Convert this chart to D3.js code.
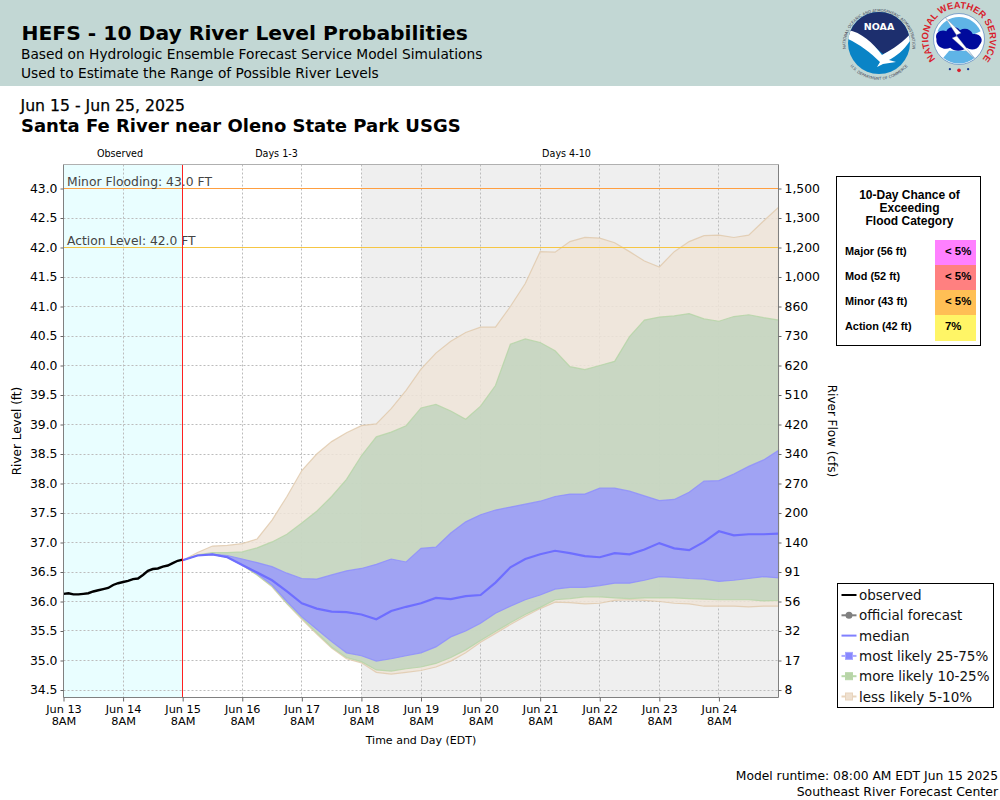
<!DOCTYPE html>
<html>
<head>
<meta charset="utf-8">
<script src="https://cdn.jsdelivr.net/npm/d3@7"></script>
<style>
body { margin: 0; background: #fff; }
svg { display: block; }
text { font-family: "DejaVu Sans", sans-serif; fill: #000; }
.grid line { stroke: #bcbcbc; stroke-dasharray: 2 2; }
.axis path { display: none; }
.axis line { stroke: #666; }
</style>
</head>
<body>
<div id="chart"></div>
<script>
const width = 1000;
const height = 800;

// tick labels
const dayLabels = ['Jun 13', 'Jun 14', 'Jun 15', 'Jun 16', 'Jun 17', 'Jun 18', 'Jun 19', 'Jun 20', 'Jun 21', 'Jun 22', 'Jun 23', 'Jun 24'];
const stageTicks = [43.0, 42.5, 42.0, 41.5, 41.0, 40.5, 40.0, 39.5, 39.0, 38.5, 38.0, 37.5, 37.0, 36.5, 36.0, 35.5, 35.0, 34.5];
const flowLabels = ['1,500', '1,300', '1,200', '1,000', '860', '730', '620', '510', '420', '340', '270', '200', '140', '91', '56', '32', '17', '8'];

// observed stage, one reading every 2 hours from Jun 13 8AM
const observed = [36.13, 36.14, 36.12, 36.12, 36.13, 36.14, 36.17, 36.19, 36.21, 36.23, 36.28, 36.31, 36.33, 36.35, 36.38, 36.39, 36.45, 36.52, 36.55, 36.56, 36.59, 36.61, 36.65, 36.69, 36.71];

// forecast percentiles, one value every 6 hours from Jun 15 8AM
const upper5 = [36.70, 36.83, 36.94, 36.95, 36.98, 37.06, 37.38, 37.78, 38.22, 38.50, 38.71, 38.86, 38.98, 39.01, 39.27, 39.58, 39.94, 40.21, 40.41, 40.56, 40.65, 40.65, 41.00, 41.39, 41.93, 41.92, 42.10, 42.17, 42.16, 42.08, 41.93, 41.77, 41.67, 41.93, 42.10, 42.20, 42.21, 42.17, 42.21, 42.45, 42.68];
const upper10 = [36.70, 36.79, 36.83, 36.83, 36.84, 36.91, 37.01, 37.14, 37.33, 37.53, 37.78, 38.07, 38.47, 38.79, 38.87, 38.98, 39.28, 39.34, 39.23, 39.09, 39.31, 39.66, 40.36, 40.45, 40.39, 40.25, 39.98, 39.93, 40.00, 40.07, 40.49, 40.77, 40.82, 40.84, 40.88, 40.79, 40.75, 40.83, 40.86, 40.81, 40.77];
const upper25 = [36.70, 36.78, 36.80, 36.78, 36.72, 36.66, 36.59, 36.48, 36.39, 36.38, 36.45, 36.52, 36.56, 36.63, 36.72, 36.67, 36.90, 36.92, 37.16, 37.35, 37.47, 37.55, 37.60, 37.65, 37.70, 37.78, 37.82, 37.82, 37.92, 37.92, 37.87, 37.79, 37.71, 37.73, 37.85, 38.04, 38.05, 38.16, 38.29, 38.40, 38.56];
const median = [36.70, 36.78, 36.80, 36.75, 36.62, 36.49, 36.36, 36.17, 35.97, 35.88, 35.83, 35.82, 35.78, 35.70, 35.84, 35.91, 35.97, 36.06, 36.04, 36.09, 36.11, 36.32, 36.58, 36.72, 36.80, 36.86, 36.82, 36.77, 36.75, 36.82, 36.80, 36.88, 36.99, 36.90, 36.87, 37.01, 37.19, 37.12, 37.14, 37.14, 37.15];
const lower25 = [36.70, 36.78, 36.80, 36.75, 36.62, 36.47, 36.28, 36.00, 35.74, 35.53, 35.32, 35.13, 35.08, 34.99, 35.03, 35.08, 35.13, 35.23, 35.40, 35.50, 35.63, 35.80, 35.92, 36.03, 36.11, 36.21, 36.24, 36.24, 36.27, 36.31, 36.31, 36.36, 36.42, 36.41, 36.39, 36.38, 36.34, 36.36, 36.39, 36.42, 36.40];
const lower10 = [36.70, 36.78, 36.80, 36.75, 36.62, 36.45, 36.26, 35.97, 35.72, 35.47, 35.23, 35.05, 34.98, 34.84, 34.82, 34.86, 34.89, 34.95, 35.05, 35.18, 35.34, 35.49, 35.64, 35.78, 35.90, 36.03, 36.05, 36.08, 36.08, 36.06, 36.05, 36.06, 36.06, 36.06, 36.05, 36.04, 36.03, 36.03, 36.03, 36.01, 36.02];
const lower5 = [36.70, 36.78, 36.80, 36.75, 36.62, 36.45, 36.25, 35.96, 35.70, 35.45, 35.21, 35.03, 34.96, 34.80, 34.77, 34.80, 34.83, 34.89, 34.99, 35.13, 35.31, 35.46, 35.61, 35.75, 35.88, 35.99, 35.98, 35.96, 35.97, 36.02, 36.03, 36.02, 36.00, 35.97, 35.96, 35.92, 35.92, 35.92, 35.91, 35.92, 35.92];

// flood category table
const floodCategories = ['Major (56 ft)', 'Mod (52 ft)', 'Minor (43 ft)', 'Action (42 ft)'];
const floodChances = ['< 5%', '< 5%', '< 5%', '7%'];
const floodColors = ['#ff80ff', '#ff8080', '#ffbf55', '#fff566'];

const legendNames = ['observed', 'official forecast', 'median', 'most likely 25-75%', 'more likely 10-25%', 'less likely 5-10%'];

const plot = { left: 63.5, right: 778.5, top: 164.5, bottom: 697.5 };

const hour = 3600 * 1000;
const t0 = Date.UTC(2025, 5, 13, 13);
const x = d3.scaleUtc().domain([new Date(t0), new Date(t0 + 288 * hour)]).range([plot.left, plot.right]);
const y = d3.scaleLinear().domain([43, 34.5]).range([188.5, 690]);

// gridlines and rules sit on whole pixels
const crisp = v => Math.floor(v) + 0.5;

const dayTicks = dayLabels.map((d, i) => new Date(t0 + i * 24 * hour));
const obsTimes = observed.map((d, i) => new Date(t0 + i * 2 * hour));
const fcstTimes = median.map((d, i) => new Date(t0 + (48 + i * 6) * hour));
const fcstStart = new Date(t0 + 48 * hour);
const days48 = new Date(t0 + 120 * hour);

const svg = d3.select('#chart')
    .append('svg')
    .attr('width', width)
    .attr('height', height);

// header band
svg.append('rect').attr('width', width).attr('height', 86).attr('fill', '#c2d7d4');

function addText(txt, px, py, size, opts = {}) {
    return svg.append('text')
        .attr('x', px)
        .attr('y', py)
        .attr('font-size', size)
        .attr('font-weight', opts.weight || 'normal')
        .attr('text-anchor', opts.anchor || 'start')
        .style('fill', opts.fill || '#000')
        .style('font-family', opts.family || null)
        .text(txt);
}

addText('HEFS - 10 Day River Level Probabilities', 21.5, 40, 20.3, { weight: 'bold' });
addText('Based on Hydrologic Ensemble Forecast Service Model Simulations', 21, 59, 13.75);
addText('Used to Estimate the Range of Possible River Levels', 21, 78, 13.75);
addText('Jun 15 - Jun 25, 2025', 20.5, 110.5, 15.7).style('stroke', '#000').style('stroke-width', 0.25);
addText('Santa Fe River near Oleno State Park USGS', 21, 132, 18, { weight: 'bold' });

addText('Observed', 120, 157, 9.6, { anchor: 'middle' });
addText('Days 1-3', 276.5, 157, 9.6, { anchor: 'middle' });
addText('Days 4-10', 566.5, 157, 9.6, { anchor: 'middle' });

// plot backgrounds
const plotH = plot.bottom - plot.top;
svg.append('rect').attr('x', plot.left).attr('y', plot.top).attr('width', x(fcstStart) - plot.left).attr('height', plotH).attr('fill', '#e9feff');
svg.append('rect').attr('x', crisp(x(days48))).attr('y', plot.top).attr('width', plot.right - crisp(x(days48))).attr('height', plotH).attr('fill', '#efefef');

// gridlines
svg.append('g').attr('class', 'grid')
    .selectAll('line').data(stageTicks).join('line')
    .attr('x1', plot.left).attr('x2', plot.right)
    .attr('y1', d => crisp(y(d))).attr('y2', d => crisp(y(d)));
svg.append('g').attr('class', 'grid')
    .selectAll('line').data(dayTicks.slice(1)).join('line')
    .attr('x1', d => crisp(x(d))).attr('x2', d => crisp(x(d)))
    .attr('y1', plot.top).attr('y2', plot.bottom);

// probability bands
function band(top, bottom, fill, stroke) {
    const area = d3.area()
        .x((d, i) => x(fcstTimes[i]))
        .y0((d, i) => y(bottom[i]))
        .y1((d, i) => y(top[i]));
    svg.append('path').datum(top).attr('d', area)
        .attr('fill', fill)
        .attr('stroke', stroke)
        .attr('stroke-width', 1.2);
}
band(upper5, lower5, 'rgba(238,228,216,0.85)', 'rgba(224,200,170,0.8)');
band(upper10, lower10, 'rgba(191,211,189,0.8)', 'rgba(180,212,165,0.8)');
band(upper25, lower25, 'rgba(150,150,255,0.8)', 'rgba(140,140,255,0.8)');

const line = d3.line()
    .x(d => x(d[0]))
    .y(d => y(d[1]));

svg.append('path').datum(d3.zip(fcstTimes, median)).attr('d', line)
    .attr('fill', 'none').attr('stroke', '#6e6eff').attr('stroke-width', 2.2);
svg.append('path').datum(d3.zip(obsTimes, observed)).attr('d', line)
    .attr('fill', 'none').attr('stroke', '#000').attr('stroke-width', 2.4);

// flood stage lines
svg.append('line').attr('x1', plot.left).attr('x2', plot.right).attr('y1', crisp(y(43))).attr('y2', crisp(y(43))).attr('stroke', '#ff9f40');
svg.append('line').attr('x1', plot.left).attr('x2', plot.right).attr('y1', crisp(y(42))).attr('y2', crisp(y(42))).attr('stroke', '#f6c644');
addText('Minor Flooding: 43.0 FT', 67, 186, 12.35, { fill: '#444' });
addText('Action Level: 42.0 FT', 67, 245, 12.3, { fill: '#444' });

// forecast start
svg.append('line').attr('x1', crisp(x(fcstStart))).attr('x2', crisp(x(fcstStart))).attr('y1', plot.top).attr('y2', plot.bottom).attr('stroke', '#ff2020');

// plot frame
svg.append('line').attr('x1', plot.left).attr('x2', plot.right).attr('y1', plot.top).attr('y2', plot.top).attr('stroke', '#b0b0b0');
svg.append('line').attr('x1', plot.left).attr('x2', plot.left).attr('y1', plot.top).attr('y2', plot.bottom).attr('stroke', '#808080');
svg.append('line').attr('x1', plot.right).attr('x2', plot.right).attr('y1', plot.top).attr('y2', plot.bottom).attr('stroke', '#808080');
svg.append('line').attr('x1', plot.left).attr('x2', plot.right).attr('y1', plot.bottom).attr('y2', plot.bottom).attr('stroke', '#808080');

// axes
svg.append('g').attr('class', 'axis')
    .attr('transform', `translate(${plot.left},0)`)
    .call(d3.axisLeft(y).tickValues(stageTicks).tickFormat(d3.format('.1f')).tickSize(3).tickPadding(3))
    .selectAll('text').attr('font-size', 12.4).style('font-family', '"DejaVu Sans"');

svg.append('g').attr('class', 'axis')
    .attr('transform', `translate(${plot.right},0)`)
    .call(d3.axisRight(y).tickValues(stageTicks).tickFormat((d, i) => flowLabels[i]).tickSize(3).tickPadding(3))
    .selectAll('text').attr('font-size', 12.4).style('font-family', '"DejaVu Sans"');

const xAxis = svg.append('g').attr('class', 'axis')
    .attr('transform', `translate(0,${plot.bottom})`)
    .call(d3.axisBottom(x).tickValues(dayTicks).tickFormat((d, i) => dayLabels[i]).tickSize(4).tickPadding(3));
xAxis.selectAll('text')
    .attr('font-size', 11.3)
    .style('font-family', '"DejaVu Sans"')
    .each(function () {
        d3.select(this).append('tspan').attr('x', 0).attr('dy', '1.06em').text('8AM');
    });

addText('Time and Day (EDT)', 421, 744, 11, { anchor: 'middle' });
addText('River Level (ft)', 0, 0, 12, { anchor: 'middle' }).attr('transform', 'translate(21,431) rotate(-90)');
addText('River Flow (cfs)', 0, 0, 12, { anchor: 'middle' }).attr('transform', 'translate(828,431) rotate(90)');

// flood chance table
const floodBox = svg.append('g').attr('transform', 'translate(836.5,176.5)');
floodBox.append('rect').attr('width', 144).attr('height', 169).attr('fill', '#fff').attr('stroke', '#000');
['10-Day Chance of', 'Exceeding', 'Flood Category'].forEach((t, i) => {
    floodBox.append('text').attr('x', 73).attr('y', 22.5 + i * 13)
        .attr('text-anchor', 'middle').attr('font-size', 12).attr('font-weight', 'bold')
        .style('font-family', '"Liberation Sans"').text(t);
});
const rowH = 25;
floodBox.selectAll('.cell').data(floodCategories).join('rect')
    .attr('class', 'cell')
    .attr('x', 98.5).attr('y', (d, i) => 63.5 + i * rowH)
    .attr('width', 41).attr('height', (d, i) => i === 3 ? 26 : rowH)
    .attr('fill', (d, i) => floodColors[i]);
floodBox.selectAll('.cat').data(floodCategories).join('text')
    .attr('class', 'cat')
    .attr('x', 8.5).attr('y', (d, i) => 78.5 + i * rowH)
    .attr('font-size', 10.9).attr('font-weight', 'bold')
    .style('font-family', '"Liberation Sans"').text(d => d);
floodBox.selectAll('.chance').data(floodChances).join('text')
    .attr('class', 'chance')
    .attr('x', 108.5).attr('y', (d, i) => 78.5 + i * rowH)
    .attr('font-size', 11.4).attr('font-weight', 'bold')
    .style('font-family', '"Liberation Sans"').text(d => d);

// legend
const legend = svg.append('g').attr('transform', 'translate(837.5,583.5)');
legend.append('rect').attr('width', 156).attr('height', 124).attr('fill', '#fff').attr('stroke', '#000');
const legendLine = ['#000', '#808080', '#8080ff', '#a8a8ff', '#b8d8a8', '#e8d4bc'];
const legendMark = [null, '#808080', null, '#8888ff', '#b8d4a8', '#eee0d0'];
const rows = legend.selectAll('.row').data(legendNames).join('g')
    .attr('class', 'row')
    .attr('transform', (d, i) => `translate(0,${11.5 + i * 20.3})`);
rows.append('line').attr('x1', 4).attr('x2', 19).attr('stroke', (d, i) => legendLine[i]).attr('stroke-width', 2);
rows.filter((d, i) => i === 1).append('circle').attr('cx', 11.5).attr('r', 3.5).attr('fill', '#808080');
rows.filter((d, i) => i > 2).append('rect')
    .attr('x', 8).attr('y', -3.5).attr('width', 7).attr('height', 7)
    .attr('fill', d => legendMark[legendNames.indexOf(d)])
    .attr('stroke', d => legendLine[legendNames.indexOf(d)]);
rows.append('text').attr('x', 21.5).attr('y', 5).attr('font-size', 13.5).style('fill', '#111').text(d => d);

// footer
addText('Model runtime: 08:00 AM EDT Jun 15 2025', 998, 780, 12.3, { anchor: 'end' });
addText('Southeast River Forecast Center', 998, 796, 12.45, { anchor: 'end' });

// NOAA logo
const noaa = svg.append('g').attr('transform', 'translate(879,43)');
const defs = svg.append('defs');
defs.append('clipPath').attr('id', 'noaaClip').append('circle').attr('r', 31);
defs.append('path').attr('id', 'noaaTop').attr('d', 'M-33,8 A33.5,33.5 0 1 1 33,8');
defs.append('path').attr('id', 'noaaBottom').attr('d', 'M-28,24 A37,37 0 0 0 28,24');
noaa.append('circle').attr('r', 31).attr('fill', '#0a84c6');
const noaaInner = noaa.append('g').attr('clip-path', 'url(#noaaClip)');
noaaInner.append('path').attr('d', 'M-31,-31 H31 V-6 C20,4 12,8 4,11 C-4,4 -14,-6 -31,-8 Z').attr('fill', '#1d2f6e');
noaaInner.append('path')
    .attr('d', 'M-31,-13 C-18,-11 -6,0 3,12 C10,8 22,2 33,-11 L33,-5 C26,6 18,13 10,17 L17,19 L4,21 L-2,24 L1,19 C-8,10 -20,1 -31,-4 Z')
    .attr('fill', '#fff');
noaa.append('text').attr('y', -13.5).attr('text-anchor', 'middle').attr('font-size', 9.5).attr('font-weight', 'bold').style('fill', '#fff').text('NOAA');
noaa.append('text').attr('font-size', 3.9).style('fill', '#445').append('textPath').attr('href', '#noaaTop').attr('startOffset', '50%').attr('text-anchor', 'middle').text('NATIONAL OCEANIC AND ATMOSPHERIC ADMINISTRATION');
noaa.append('text').attr('font-size', 3.9).style('fill', '#445').append('textPath').attr('href', '#noaaBottom').attr('startOffset', '50%').attr('text-anchor', 'middle').text('U.S. DEPARTMENT OF COMMERCE');

// NWS logo
const nws = svg.append('g').attr('transform', 'translate(959,39) scale(1.14)');
defs.append('path').attr('id', 'nwsRing').attr('d', 'M-17,21 A27,27 0 1 1 17,21');
const nwsInner = nws.append('g').attr('transform', 'scale(0.86)');
nwsInner.append('circle').attr('r', 26).attr('fill', '#fff').attr('stroke', '#3a6fb5').attr('stroke-width', 0.6);
nwsInner.append('path').attr('d', 'M-22,-8 A24,24 0 0 1 22,-8 L14,-4 L-14,-4 Z').attr('fill', '#5fb4e6');
nwsInner.append('path').attr('d', 'M-16,19 A24,24 0 0 0 16,19 L10,12 L-10,12 Z').attr('fill', '#5fb4e6');
nwsInner.append('path')
    .attr('d', 'M-23,0 C-25,-7 -18,-10 -13,-8 C-10,-14 -2,-13 1,-9 C6,-12 12,-10 14,-5 C22,-6 26,1 21,6 C19,11 12,12 8,9 C3,13 -5,13 -9,9 C-15,12 -24,8 -23,0 Z')
    .attr('fill', '#000a9c');
nwsInner.append('path').attr('d', 'M-14,-22 L2,-6 L-3,-4 L16,20 L-7,-1 L-2,-3 Z').attr('fill', '#fff').attr('stroke', '#99a').attr('stroke-width', 0.4);
nws.append('text').attr('font-size', 8.2).attr('font-weight', 'bold').style('fill', '#d81e2c').style('font-family', '"Liberation Sans"').append('textPath').attr('href', '#nwsRing').attr('startOffset', '50%').attr('text-anchor', 'middle').text('NATIONAL WEATHER SERVICE');
nws.append('g').selectAll('circle').data([-8, 0, 8]).join('circle')
    .attr('cx', d => d).attr('cy', d => d === 0 ? 27.5 : 26.5).attr('r', d => d === 0 ? 1.6 : 1)
    .attr('fill', d => d === 0 ? '#d81e2c' : '#1d3a8e');
</script>
</body>
</html>
